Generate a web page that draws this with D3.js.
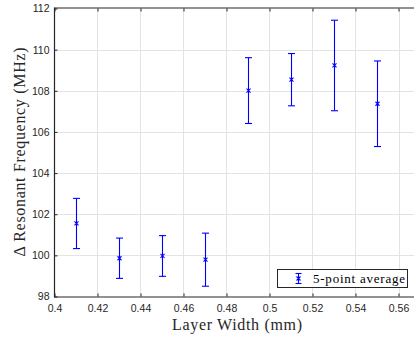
<!DOCTYPE html>
<html><head><meta charset="utf-8">
<script src="https://cdn.jsdelivr.net/npm/d3@7"></script>
<style>body{margin:0;background:#fff}svg{display:block}</style>
</head><body>
<svg id="c" width="414" height="343"></svg>
<script>
const widths = [0.41, 0.43, 0.45, 0.47, 0.49, 0.51, 0.53, 0.55];
const means  = [101.55, 99.86, 99.97, 99.79, 108.01, 108.54, 109.23, 107.37];
const errors = [1.22, 0.98, 0.99, 1.29, 1.6, 1.27, 2.2, 2.08];
const xTicks = [0.4,0.42,0.44,0.46,0.48,0.5,0.52,0.54,0.56];
const yTicks = [98,100,102,104,106,108,110,112];
const legendLabel = "5-point average";

const svg = d3.select("#c");
const L = 54.5, T = 8.5, B = 296.5;
const x = d3.scaleLinear().domain([0.4, 0.56]).range([L, L + 8*43]);
const y = d3.scaleLinear().domain([98, 112]).range([B, T]);
const R = 416;
const axisCol = "#262626";

// grid
const g = svg.append("g");
g.selectAll(".gx").data(xTicks.slice(1)).join("line")
  .attr("x1", d=>Math.round(x(d))+0.5).attr("x2", d=>Math.round(x(d))+0.5)
  .attr("y1", T).attr("y2", B).attr("stroke", "#e3e3e3").attr("stroke-width", 1);
g.selectAll(".gy").data(yTicks.slice(1,-1)).join("line")
  .attr("y1", d=>Math.round(y(d))+0.5).attr("y2", d=>Math.round(y(d))+0.5)
  .attr("x1", L).attr("x2", R).attr("stroke", "#e3e3e3").attr("stroke-width", 1);

// axes
const xAxis = d3.axisBottom(x).tickValues(xTicks).tickFormat(d=>d3.format("")(+d.toFixed(2))).tickSize(-3).tickPadding(8);
const gx = svg.append("g").attr("transform", `translate(0,${B})`).call(xAxis);
gx.select(".domain").attr("d", `M${L},0.5H${R}`);
const xTop = d3.axisTop(x).tickValues(xTicks).tickFormat("").tickSize(-3);
const gxt = svg.append("g").attr("transform", `translate(0,${T})`).call(xTop);
gxt.select(".domain").attr("d", `M${L},-0.5H${R}`);
const yAxis = d3.axisLeft(y).tickValues(yTicks).tickSize(-3).tickPadding(5);
const gy = svg.append("g").attr("transform", `translate(${L},0)`).call(yAxis);
gy.select(".domain").attr("d", `M0,${T-1}V${B+1}`);
[gx, gxt, gy].forEach(a => {
  a.selectAll(".domain").attr("stroke", axisCol).attr("stroke-width", 1.2);
  a.selectAll(".tick line").attr("stroke", axisCol);
  a.selectAll("text").attr("fill", axisCol).attr("font-family", "Liberation Sans, Arial, sans-serif").attr("font-size", 10.5);
});
gx.selectAll(".tick text").attr("dy", "0.71em");

// error bars
const cap = 3.5;
const eb = svg.append("g").attr("stroke", "#0000ff").attr("stroke-width", 1.1).attr("fill", "none");
widths.forEach((w, i) => {
  const cx = Math.round(x(w)) + 0.5;
  const y0 = y(means[i] - errors[i]), y1 = y(means[i] + errors[i]), yc = y(means[i]);
  eb.append("line").attr("x1", cx).attr("x2", cx).attr("y1", y0).attr("y2", y1);
  eb.append("line").attr("x1", cx-cap).attr("x2", cx+cap).attr("y1", y0).attr("y2", y0);
  eb.append("line").attr("x1", cx-cap).attr("x2", cx+cap).attr("y1", y1).attr("y2", y1);
  eb.append("path").attr("d", `M${cx-2},${yc-2}L${cx+2},${yc+2}M${cx-2},${yc+2}L${cx+2},${yc-2}`);
});

// legend
const lg = svg.append("g");
lg.append("rect").attr("x", 277.5).attr("y", 269.5).attr("width", 130).attr("height", 18)
  .attr("fill", "#fff").attr("stroke", axisCol).attr("stroke-width", 1);
const lx = 298.5, ly = 278.5;
const le = lg.append("g").attr("stroke", "#0000ff").attr("stroke-width", 1.1);
le.append("line").attr("x1", lx).attr("x2", lx).attr("y1", ly-5).attr("y2", ly+5);
le.append("line").attr("x1", lx-3).attr("x2", lx+3).attr("y1", ly-5).attr("y2", ly-5);
le.append("line").attr("x1", lx-3).attr("x2", lx+3).attr("y1", ly+5).attr("y2", ly+5);
le.append("path").attr("d", `M${lx-2},${ly-2}L${lx+2},${ly+2}M${lx-2},${ly+2}L${lx+2},${ly-2}`);
lg.append("text").attr("x", 313).attr("y", 282.5).text(legendLabel)
  .attr("font-family", "Liberation Serif, serif").attr("font-size", 13).attr("fill", "#000")
  .attr("textLength", 92).attr("lengthAdjust", "spacing");

// axis labels
svg.append("text").attr("x", 237).attr("y", 330).attr("text-anchor", "middle")
  .attr("font-family", "Liberation Serif, serif").attr("font-size", 16).attr("fill", "#262626")
  .attr("textLength", 130).attr("lengthAdjust", "spacing")
  .text("Layer Width (mm)");
svg.append("text").attr("transform", "translate(25,152) rotate(-90)").attr("text-anchor", "middle")
  .attr("font-family", "Liberation Serif, serif").attr("font-size", 16).attr("fill", "#262626")
  .attr("textLength", 209).attr("lengthAdjust", "spacing")
  .text("Δ Resonant Frequency (MHz)");
</script>
</body></html>
